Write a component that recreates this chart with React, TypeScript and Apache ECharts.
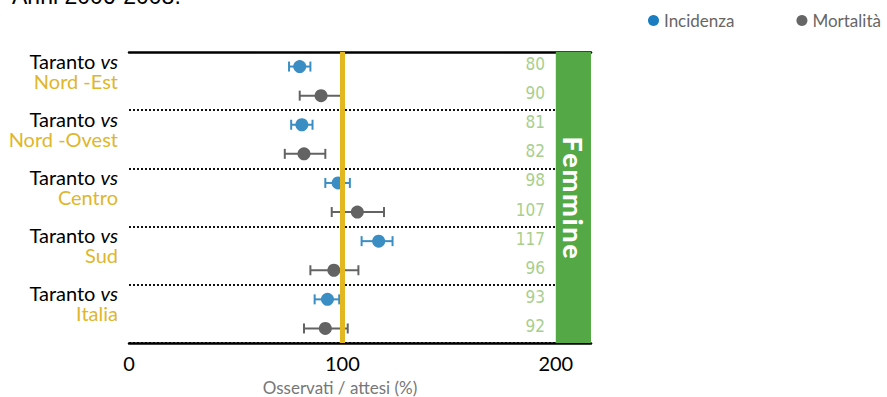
import React, { useEffect, useRef } from "react";
import * as echarts from "echarts";

const regions = ["Nord -Est", "Nord -Ovest", "Centro", "Sud", "Italia"];
const incidenza = [80, 81, 98, 117, 93];
const incLow = [75, 76, 92, 109, 87];
const incHigh = [85, 86, 103.5, 123.5, 98.5];
const mortalita = [90, 82, 107, 96, 92];
const morLow = [80, 73, 95, 85, 82];
const morHigh = [100.5, 92, 119.5, 107.5, 102.5];
const xTicks = [0, 100, 200];
const reference = 100;
const bandStart = 200;
const xMax = 216.5;

const BLUE = "#3b8ec3";
const GREY = "#636363";
const YELLOW = "#e2b71f";
const GREEN = "#54a946";
const LIGHTGREEN = "#a8cf8e";
const FONT = "Lato, 'Open Sans', sans-serif";
const NARROW = "'Liberation Sans Narrow', 'DejaVu Sans Condensed', sans-serif";

const rowIds: string[] = [];
const rowValues: number[] = [];
regions.forEach((r, i) => {
  rowIds.push(r + "|inc");
  rowIds.push(r + "|mor");
  rowValues.push(incidenza[i]);
  rowValues.push(mortalita[i]);
});

function errorBar(color: string) {
  return (params: any, api: any) => {
    const row = api.value(2);
    const lo = api.coord([api.value(0), row]);
    const hi = api.coord([api.value(1), row]);
    const h = 5;
    const style = { stroke: color, lineWidth: 2, fill: null };
    return {
      type: "group",
      children: [
        { type: "line", shape: { x1: lo[0], y1: lo[1], x2: hi[0], y2: hi[1] }, style },
        { type: "line", shape: { x1: lo[0], y1: lo[1] - h, x2: lo[0], y2: lo[1] + h }, style },
        { type: "line", shape: { x1: hi[0], y1: hi[1] - h, x2: hi[0], y2: hi[1] + h }, style },
      ],
    };
  };
}

export default function App() {
  const ref = useRef<HTMLDivElement>(null);
  useEffect(() => {
    if (!ref.current) return;
    const chart = echarts.init(ref.current, null, { renderer: "svg" });
    const incData = incidenza.map((v, i) => [v, i * 2]);
    const morData = mortalita.map((v, i) => [v, i * 2 + 1]);
    const incErr = incidenza.map((_, i) => [incLow[i], incHigh[i], i * 2]);
    const morErr = mortalita.map((_, i) => [morLow[i], morHigh[i], i * 2 + 1]);

    chart.setOption({
      animation: false,
      graphic: [
        {
          type: "text",
          x: 12,
          y: 7,
          style: {
            text: "Anni 2006-2008.",
            font: "23px 'Liberation Sans', Arial, sans-serif",
            fill: "#000",
            verticalAlign: "bottom",
          },
        },
      ],
      legend: {
        left: 643,
        top: 7,
        icon: "circle",
        itemWidth: 11,
        itemHeight: 11,
        itemGap: 62,
        textStyle: { color: "#666", fontSize: 17, fontFamily: FONT },
        data: [
          { name: "Incidenza", itemStyle: { color: "#1b7dbf" } },
          { name: "Mortalità", itemStyle: { color: "#666" } },
        ],
      },
      grid: { left: 129, right: 296, top: 52, bottom: 54, outerBoundsMode: "none", containLabel: false },
      xAxis: [
        {
          type: "value",
          min: 0,
          max: xMax,
          interval: 100,
          axisLine: { show: true, lineStyle: { color: "#000", width: 2.5 } },
          axisTick: { show: false },
          splitLine: { show: false },
          axisLabel: {
            color: "#000",
            fontSize: 20,
            fontFamily: FONT,
            margin: 10,
            formatter: (v: number) => (xTicks.includes(v) ? String(v) : ""),
          },
          name: "Osservati / attesi (%)",
          nameLocation: "middle",
          nameGap: 36,
          nameTextStyle: { color: "#777", fontSize: 17, fontFamily: FONT, padding: [0, 40, 0, 0] },
        },
        {
          type: "value",
          position: "top",
          min: 0,
          max: xMax,
          axisLine: { show: true, lineStyle: { color: "#000", width: 2.5 } },
          axisTick: { show: false },
          axisLabel: { show: false },
          splitLine: { show: false },
        },
      ],
      yAxis: [
        {
          type: "category",
          data: rowIds,
          inverse: true,
          axisLine: { show: false },
          axisTick: { show: false },
          splitLine: {
            show: true,
            interval: (i: number) => i > 0 && i % 2 === 0,
            lineStyle: { color: "#111", width: 2, type: [2, 2] },
          },
          axisLabel: {
            margin: 11,
            padding: [8, 0, 0, 0],
            formatter: (value: string, index: number) =>
              index % 2 === 0
                ? `{a|Taranto }{i|vs}\n{b|${regions[index / 2]}}`
                : "",
            rich: {
              a: { color: "#000", fontSize: 20, fontFamily: FONT, lineHeight: 20, align: "right" },
              i: { color: "#000", fontSize: 20, fontFamily: FONT, fontStyle: "italic", lineHeight: 20, align: "right" },
              b: { color: "#e0b62c", fontSize: 20, fontFamily: FONT, lineHeight: 20, align: "right" },
            },
          },
        },
        {
          type: "category",
          data: rowIds,
          inverse: true,
          position: "right",
          axisLine: { show: false },
          axisTick: { show: false },
          splitLine: { show: false },
          axisLabel: {
            inside: true,
            margin: 46,
            verticalAlign: "bottom",
            lineHeight: 5,
            color: LIGHTGREEN,
            fontSize: 17,
            fontFamily: NARROW,
            formatter: (value: string, index: number) => String(rowValues[index]),
          },
        },
      ],
      series: [
        {
          type: "scatter",
          name: "_ref",
          data: [],
          z: 1,
          markLine: {
            silent: true,
            symbol: "none",
            label: { show: false },
            lineStyle: { color: YELLOW, width: 5, type: "solid" },
            data: [{ xAxis: reference }],
          },
          markArea: {
            silent: true,
            itemStyle: { color: GREEN, opacity: 1 },
            label: {
              show: true,
              position: "inside",
              rotate: -90,
              color: "#fff",
              fontSize: 27,
              fontWeight: 900,
              fontFamily: FONT,
            },
            data: [[{ xAxis: bandStart, name: "F\u200Ae\u200Am\u200Am\u200Ai\u200An\u200Ae" }, { xAxis: xMax }]],
          },
        },
        {
          type: "custom",
          name: "_incErr",
          z: 3,
          renderItem: errorBar(BLUE),
          encode: { x: [0, 1], y: 2 },
          data: incErr,
        },
        {
          type: "custom",
          name: "_morErr",
          z: 3,
          renderItem: errorBar(GREY),
          encode: { x: [0, 1], y: 2 },
          data: morErr,
        },
        {
          type: "scatter",
          name: "Incidenza",
          z: 4,
          symbolSize: 13,
          itemStyle: { color: BLUE, opacity: 1 },
          data: incData,
        },
        {
          type: "scatter",
          name: "Mortalità",
          z: 4,
          symbolSize: 13,
          itemStyle: { color: GREY, opacity: 1 },
          data: morData,
        },
      ],
    });
    return () => chart.dispose();
  }, []);
  return (
    <div
      ref={ref}
      style={{ position: "fixed", left: 0, top: 0, width: 887, height: 397, background: "#fff" }}
    />
  );
}
